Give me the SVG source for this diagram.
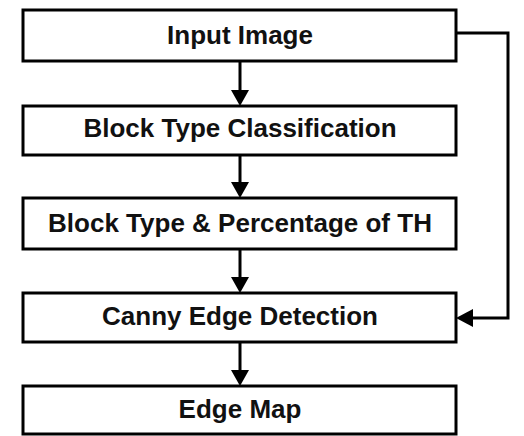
<svg xmlns="http://www.w3.org/2000/svg" width="524" height="436" viewBox="0 0 524 436">
<style>
.box{fill:#fff;stroke:#000;stroke-width:3}
.lbl{font-family:"Liberation Sans",Arial,sans-serif;font-weight:bold;font-size:26px;fill:#111;text-anchor:middle}
.conn{fill:none;stroke:#000;stroke-width:3}
.head{fill:#000}
</style>
<rect width="524" height="436" fill="#fff"/>
<g id="connectors">
<line class="conn" x1="240" y1="61" x2="240" y2="92"/>
<polygon class="head" points="231,90 249,90 240,106"/>
<line class="conn" x1="240" y1="155" x2="240" y2="184"/>
<polygon class="head" points="231,182 249,182 240,198"/>
<line class="conn" x1="240" y1="249" x2="240" y2="279"/>
<polygon class="head" points="231,277 249,277 240,293"/>
<line class="conn" x1="240" y1="342" x2="240" y2="372"/>
<polygon class="head" points="231,370 249,370 240,386"/>
<polyline class="conn" points="456,33 508,33 508,318 470,318"/>
<polygon class="head" points="456,318 473,309 473,327"/>
</g>
<g id="n1"><rect class="box" x="23" y="10" width="433" height="51"/><text class="lbl" x="240" y="44">Input Image</text></g>
<g id="n2"><rect class="box" x="23" y="106" width="433" height="49"/><text class="lbl" x="240" y="137">Block Type Classification</text></g>
<g id="n3"><rect class="box" x="23" y="198" width="433" height="51"/><text class="lbl" x="240" y="232">Block Type &amp; Percentage of TH</text></g>
<g id="n4"><rect class="box" x="23" y="293" width="433" height="49"/><text class="lbl" x="240" y="325">Canny Edge Detection</text></g>
<g id="n5"><rect class="box" x="23" y="386" width="433" height="48"/><text class="lbl" x="240" y="418">Edge Map</text></g>
</svg>
